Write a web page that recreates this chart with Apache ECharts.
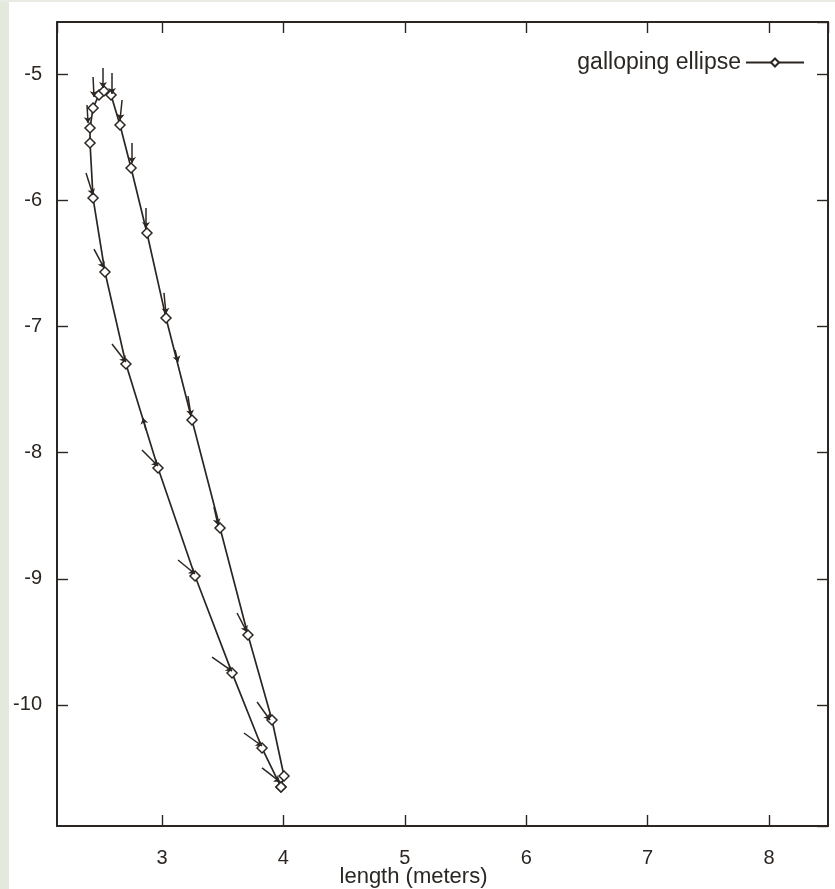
<!DOCTYPE html>
<html>
<head>
<meta charset="utf-8">
<title>galloping ellipse</title>
<script src="https://cdn.jsdelivr.net/npm/echarts@6/dist/echarts.min.js"></script>
<style>
  html, body { margin: 0; padding: 0; background: #ffffff; }
  #chart { width: 835px; height: 889px; }
</style>
</head>
<body>
<div id="chart"></div>
<script>
// loop of the ellipse (up the left branch, down the right one)
const ellipseX = [3.980, 3.824, 3.577, 3.272, 2.967, 2.703, 2.530, 2.432, 2.407, 2.407, 2.432, 2.481, 2.522,
                  2.580, 2.654, 2.745, 2.876, 3.033, 3.247, 3.478, 3.708, 3.906, 4.005, 3.980]
const ellipseY = [-10.650, -10.341, -9.746, -8.978, -8.122, -7.298, -6.569, -5.983, -5.547, -5.428, -5.269, -5.166, -5.135,
                  -5.166, -5.404, -5.745, -6.260, -6.933, -7.742, -8.597, -9.445, -10.119, -10.563, -10.650]

// small vectors drawn at the points (start -> end)
const vecX0 = [2.374, 2.440, 2.588, 2.835, 3.132, 3.412, 3.675, 3.824, 3.783, 3.618, 3.428, 3.214, 3.016,
               2.868, 2.753, 2.671, 2.588, 2.514, 2.432, 2.382, 3.107, 2.868]
const vecY0 = [-5.784, -6.387, -7.139, -7.979, -8.851, -9.620, -10.222, -10.499, -9.976, -9.271, -8.431, -7.552, -6.735,
               -6.062, -5.547, -5.206, -4.992, -4.952, -5.024, -5.246, -7.187, -7.821]
const vecX1 = [2.432, 2.522, 2.703, 2.967, 3.272, 3.577, 3.824, 3.972, 3.890, 3.700, 3.461, 3.239, 3.033,
               2.868, 2.753, 2.654, 2.588, 2.514, 2.440, 2.391, 3.132, 2.843]
const vecY1 = [-5.959, -6.537, -7.282, -8.106, -8.962, -9.731, -10.325, -10.610, -10.119, -9.422, -8.574, -7.710, -6.902,
               -6.220, -5.705, -5.365, -5.158, -5.111, -5.182, -5.388, -7.282, -7.726]

const xRange = [2.135, 8.486]
const yRange = [-10.959, -4.588]

const ink = '#2b2622'
const font = 'Liberation Sans, Arial, sans-serif'

const chart = echarts.init(document.getElementById('chart'))

const axisBase = {
    type: 'value',
    scale: true,
    splitNumber: 6,
    splitLine: { show: false },
    axisLine: { show: true, onZero: false, lineStyle: { color: ink, width: 2 } },
    axisTick: { show: true, inside: true, length: 11, lineStyle: { color: ink, width: 1.4 } }
}

const options = {
    animation: false,
    backgroundColor: '#ffffff',
    textStyle: { fontFamily: font },
    graphic: [
        { type: 'rect', left: 0, top: 0, shape: { width: 9, height: 889 }, style: { fill: '#e4e9de' } },
        { type: 'rect', left: 0, top: 0, shape: { width: 835, height: 2 }, style: { fill: '#e8ece3' } }
    ],
    grid: { left: 57, right: 7, top: 22, bottom: 63, containLabel: false, outerBoundsMode: 'none' },
    legend: {
        data: ['galloping ellipse'],
        right: 25,
        top: 46,
        align: 'right',
        itemWidth: 58,
        itemHeight: 10,
        itemGap: 6,
        textStyle: { color: ink, fontSize: 23, fontFamily: font }
    },
    xAxis: [
        {
            ...axisBase,
            min: xRange[0],
            max: xRange[1],
            position: 'bottom',
            name: 'length (meters)',
            nameLocation: 'middle',
            nameGap: 40,
            nameMoveOverlap: false,
            nameTextStyle: { color: ink, fontSize: 22, fontFamily: font, padding: [0, 58, 0, 0] },
            axisLabel: { color: ink, fontSize: 20, margin: 22, showMinLabel: false, showMaxLabel: false }
        },
        {
            ...axisBase,
            min: xRange[0],
            max: xRange[1],
            position: 'top',
            axisLabel: { show: false }
        }
    ],
    yAxis: [
        {
            ...axisBase,
            min: yRange[0],
            max: yRange[1],
            position: 'left',
            axisLabel: { color: ink, fontSize: 20, margin: 15, showMinLabel: false, showMaxLabel: false }
        },
        {
            ...axisBase,
            min: yRange[0],
            max: yRange[1],
            position: 'right',
            axisLabel: { show: false }
        }
    ],
    series: [
        {
            name: 'galloping ellipse',
            type: 'line',
            data: ellipseX.map((x, i) => [x, ellipseY[i]]),
            symbol: 'diamond',
            symbolSize: [10, 10],
            showAllSymbol: true,
            itemStyle: { color: '#ffffff', borderColor: ink, borderWidth: 1.5 },
            lineStyle: { color: ink, width: 1.7 },
            z: 3
        },
        {
            name: 'vectors',
            type: 'lines',
            coordinateSystem: 'cartesian2d',
            data: vecX0.map((x, i) => ({ coords: [[x, vecY0[i]], [vecX1[i], vecY1[i]]] })),
            symbol: ['none', 'arrow'],
            symbolSize: 6,
            lineStyle: { color: ink, width: 1.5, opacity: 1 },
            z: 4
        }
    ]
}

chart.setOption(options)
</script>
</body>
</html>
